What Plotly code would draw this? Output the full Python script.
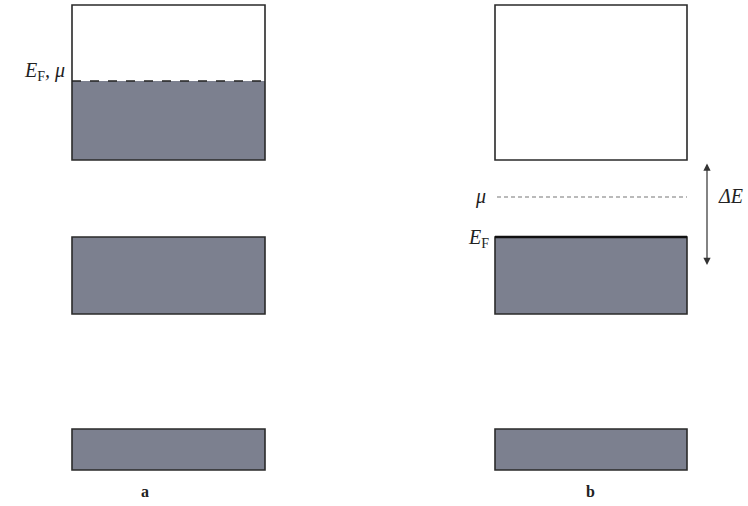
import plotly.graph_objects as go

# Energy-band diagram data (energy units, arbitrary; higher = up)
panels = ["a", "b"]
panel_x_left = [72, 495]
panel_x_right = [265, 687]
panel_label_x = [145, 590]
band_bottom = [36, 192, 346]          # lower edge of each band
band_top = [77, 269, 501]             # upper edge of each band
fill_level_a = [77, 269, 425]         # filled up to E_F (=mu) in panel a
fill_level_b = [77, 269, 346]         # panel b: top band empty
fermi_a = 425                         # E_F, mu in panel a
mu_b = 309                            # chemical potential in panel b
ef_b = 269                            # E_F in panel b (top of middle band)
gap_top_b = 344                       # arrow top
gap_bot_b = 241                       # arrow bottom

GRAY = "#7c808f"
EDGE = "#2a2a2a"

fig = go.Figure()
shapes = []
for p, (x0, x1, fills) in enumerate(zip(panel_x_left, panel_x_right, [fill_level_a, fill_level_b])):
    for lo, hi, fl in zip(band_bottom, band_top, fills):
        if fl > lo:
            shapes.append(dict(type="rect", xref="x", yref="y", x0=x0, x1=x1, y0=lo, y1=fl,
                               fillcolor=GRAY, line=dict(width=0), layer="below"))
        shapes.append(dict(type="rect", xref="x", yref="y", x0=x0, x1=x1, y0=lo, y1=hi,
                           fillcolor="rgba(0,0,0,0)", line=dict(color=EDGE, width=1.6)))

# thick top edge on panel b middle band
shapes.append(dict(type="line", xref="x", yref="y", x0=panel_x_left[1], x1=panel_x_right[1],
                   y0=ef_b, y1=ef_b, line=dict(color="#111", width=2.6)))
# Fermi level dashed line in panel a
shapes.append(dict(type="line", xref="x", yref="y", x0=panel_x_left[0], x1=panel_x_right[0],
                   y0=fermi_a, y1=fermi_a, line=dict(color="#222", width=1.3, dash="dash")))
# mu dashed line in panel b
shapes.append(dict(type="line", xref="x", yref="y", x0=panel_x_left[1] + 2, x1=panel_x_right[1],
                   y0=mu_b, y1=mu_b, line=dict(color="#777", width=1.1, dash="4px,3px")))

fig.update_layout(shapes=shapes)

serif = "Liberation Serif"
ann = []
ann.append(dict(x=67, y=fermi_a + 10, xref="x", yref="y", text="<i>E</i><sub>F</sub><i>, μ</i>",
                showarrow=False, xanchor="right", yanchor="middle",
                font=dict(family=serif, size=20, color="#222")))
ann.append(dict(x=488, y=mu_b + 1, xref="x", yref="y", text="<i>μ</i>",
                showarrow=False, xanchor="right", yanchor="middle",
                font=dict(family=serif, size=20, color="#222")))
ann.append(dict(x=491, y=ef_b - 1, xref="x", yref="y", text="<i>E</i><sub>F</sub>",
                showarrow=False, xanchor="right", yanchor="middle",
                font=dict(family=serif, size=20, color="#222")))
ann.append(dict(x=716, y=mu_b + 1, xref="x", yref="y", text="<i>ΔE</i>",
                showarrow=False, xanchor="left", yanchor="middle",
                font=dict(family=serif, size=20, color="#222")))
# double-headed arrow for gap
ann.append(dict(x=707, y=gap_bot_b, ax=707, ay=gap_top_b, xref="x", yref="y", axref="x", ayref="y",
                text="", showarrow=True, arrowhead=2, arrowside="end+start", arrowsize=1.2,
                arrowwidth=1.2, arrowcolor="#333"))
for name, lx in zip(panels, panel_label_x):
    ann.append(dict(x=lx, y=15, xref="x", yref="y", text=f"<b>{name}</b>",
                    showarrow=False, xanchor="center", yanchor="middle",
                    font=dict(family=serif, size=16, color="#222")))
fig.update_layout(annotations=ann)

fig.update_layout(
    width=748, height=506, margin=dict(l=0, r=0, t=0, b=0),
    paper_bgcolor="white", plot_bgcolor="white", showlegend=False,
    xaxis=dict(range=[0, 748], visible=False, fixedrange=True),
    yaxis=dict(range=[0, 506], visible=False, fixedrange=True),
)
fig.write_html("out.html")
